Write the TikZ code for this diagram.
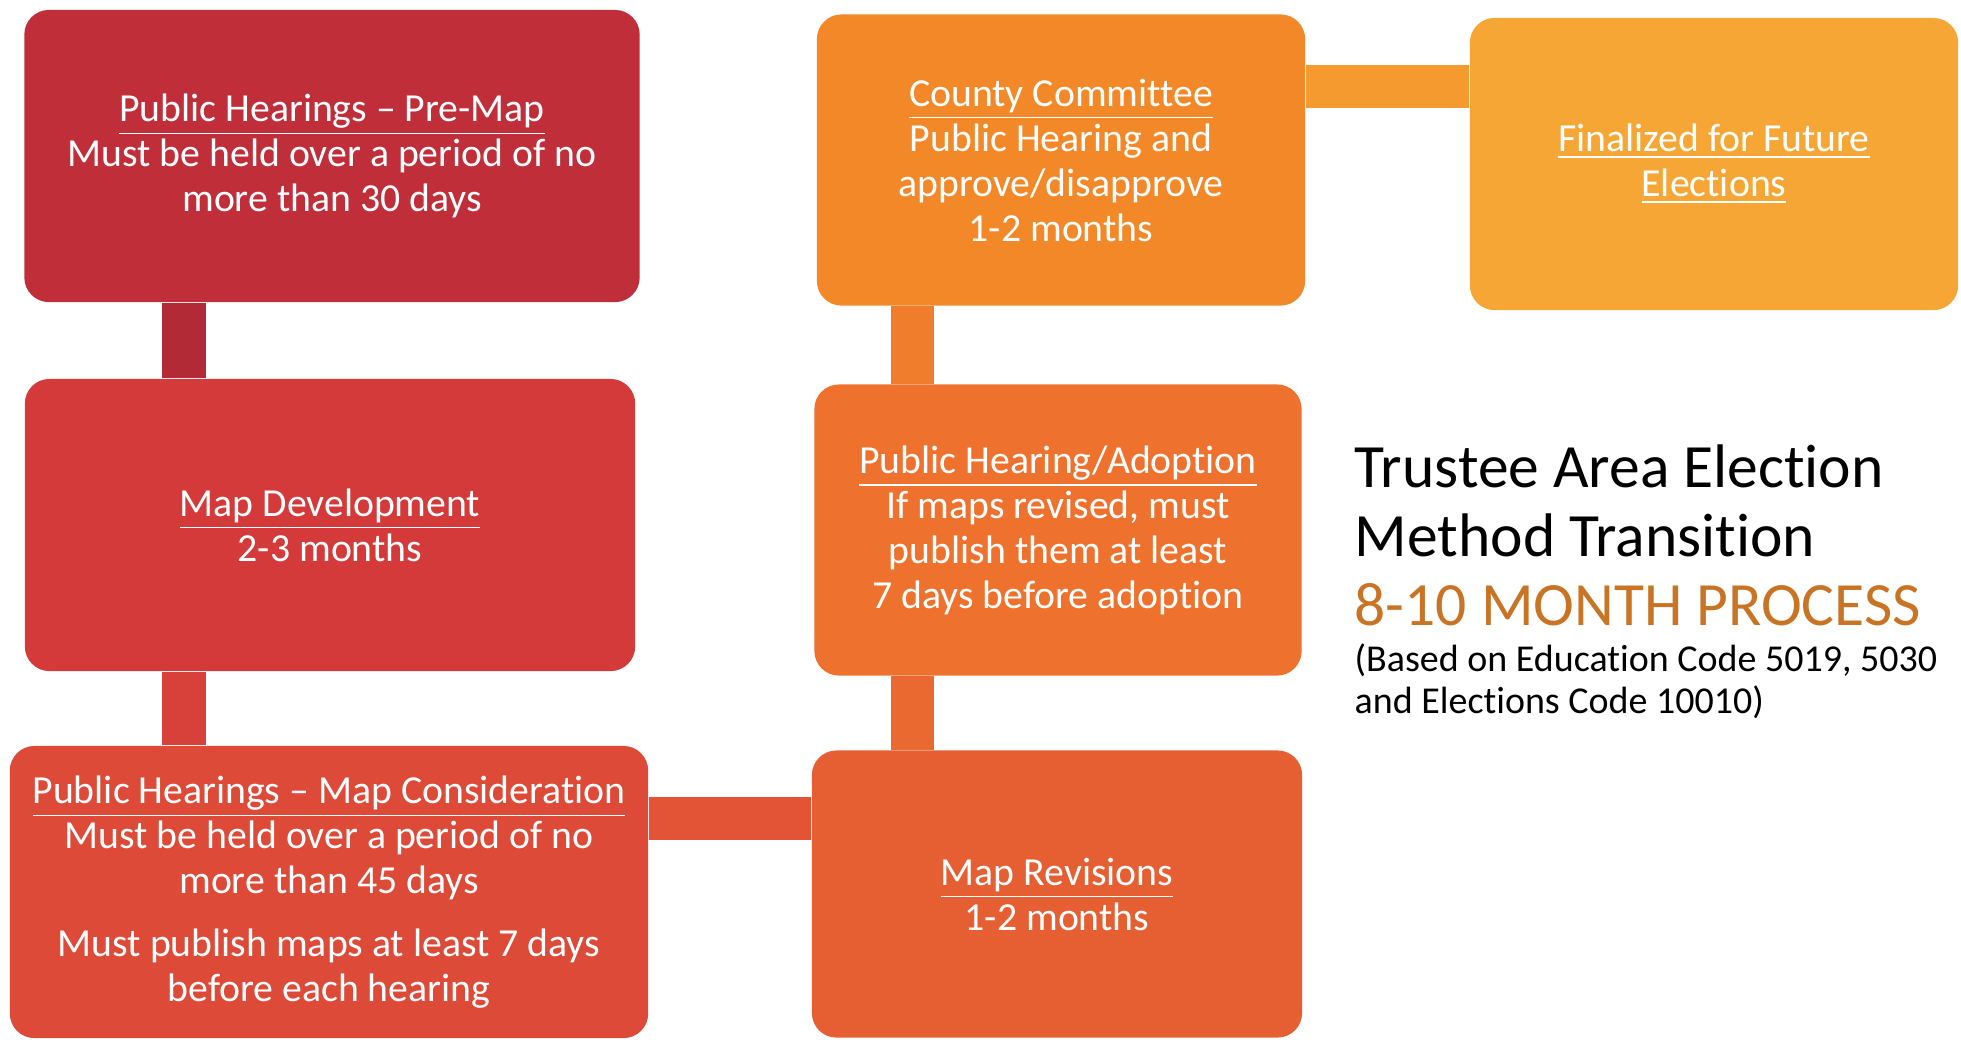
\documentclass[tikz,border=0pt]{standalone}
\usepackage{fontspec}
\setmainfont[Ligatures=NoCommon]{Carlito}
\definecolor{premapred}{RGB}{192,46,58}
\definecolor{mapdevred}{RGB}{212,58,58}
\definecolor{considred}{RGB}{222,74,56}
\definecolor{revisorange}{RGB}{230,95,50}
\definecolor{adoptorange}{RGB}{238,114,46}
\definecolor{countyorange}{RGB}{242,136,40}
\definecolor{finalorange}{RGB}{245,166,52}
\definecolor{processorange}{RGB}{200,116,36}
\tikzset{
  stage/.style={rectangle, rounded corners=7pt, inner sep=0pt, text=white, align=center,
    font=\fontsize{11.3}{12.8}\selectfont},
  link/.style={line width=0.43cm},
  heading/.style={inner sep=0pt, anchor=base west, font=\fontsize{17.5}{19.6}\selectfont},
  basis/.style={inner sep=0pt, anchor=base west, font=\fontsize{10.8}{11.9}\selectfont},
}
\newcommand{\stagetitle}[1]{\underline{#1}}
\begin{document}
\begin{tikzpicture}[x=0.01cm, y=-0.01cm]
\useasboundingbox (0,0) rectangle (1961,1041);
% left column, top to bottom
\node[stage, fill=premapred, minimum width=6.15cm, minimum height=2.92cm] (premap) at (332,156)
  {\stagetitle{Public Hearings – Pre-Map}\\Must be held over a period of no\\more than 30 days};
\node[stage, fill=mapdevred, minimum width=6.10cm, minimum height=2.92cm] (mapdev) at (330,525)
  {\stagetitle{Map Development}\\2-3 months};
\node[stage, fill=considred, minimum width=6.38cm, minimum height=2.92cm] (consider) at (329,892)
  {\stagetitle{Public Hearings – Map Consideration}\\Must be held over a period of no\\more than 45 days\\[5pt]Must publish maps at least 7 days\\before each hearing};
% right column, bottom to top
\node[stage, fill=revisorange, minimum width=4.90cm, minimum height=2.87cm] (revise) at (1057,894)
  {\stagetitle{Map Revisions}\\1-2 months};
\node[stage, fill=adoptorange, minimum width=4.87cm, minimum height=2.91cm] (adopt) at (1058,530)
  {\stagetitle{Public Hearing/Adoption}\\If maps revised, must\\publish them at least\\7 days before adoption};
\node[stage, fill=countyorange, minimum width=4.88cm, minimum height=2.91cm] (county) at (1061,160)
  {\stagetitle{County Committee}\\Public Hearing and\\approve/disapprove\\1-2 months};
\node[stage, fill=finalorange, minimum width=4.88cm, minimum height=2.92cm] (final) at (1714,164)
  {\stagetitle{Finalized for Future}\\\stagetitle{Elections}};
% connectors
\coordinate (leftbar) at (184,0);
\coordinate (rightbar) at (912,0);
\coordinate (lowbar) at (0,818);
\coordinate (topbar) at (0,86);
\draw[link, premapred!92!black] (premap.south -| leftbar) -- (mapdev.north -| leftbar);
\draw[link, mapdevred!60!considred] (mapdev.south -| leftbar) -- (consider.north -| leftbar);
\draw[link, considred!50!revisorange] (consider.east |- lowbar) -- (revise.west |- lowbar);
\draw[link, revisorange!50!adoptorange] (revise.north -| rightbar) -- (adopt.south -| rightbar);
\draw[link, adoptorange!50!countyorange] (adopt.north -| rightbar) -- (county.south -| rightbar);
\draw[link, countyorange!40!finalorange] (county.east |- topbar) -- (final.west |- topbar);
% title text
\node[heading] (trustee) at (1354,487) {Trustee Area Election};
\node[heading] (method) at (1354,556) {Method Transition};
\node[heading, text=processorange] (months) at (1354,625) {8-10 MONTH PROCESS};
\node[basis] (basisone) at (1354,671) {(Based on Education Code 5019, 5030};
\node[basis] (basistwo) at (1354,713) {and Elections Code 10010)};
\end{tikzpicture}
\end{document}
